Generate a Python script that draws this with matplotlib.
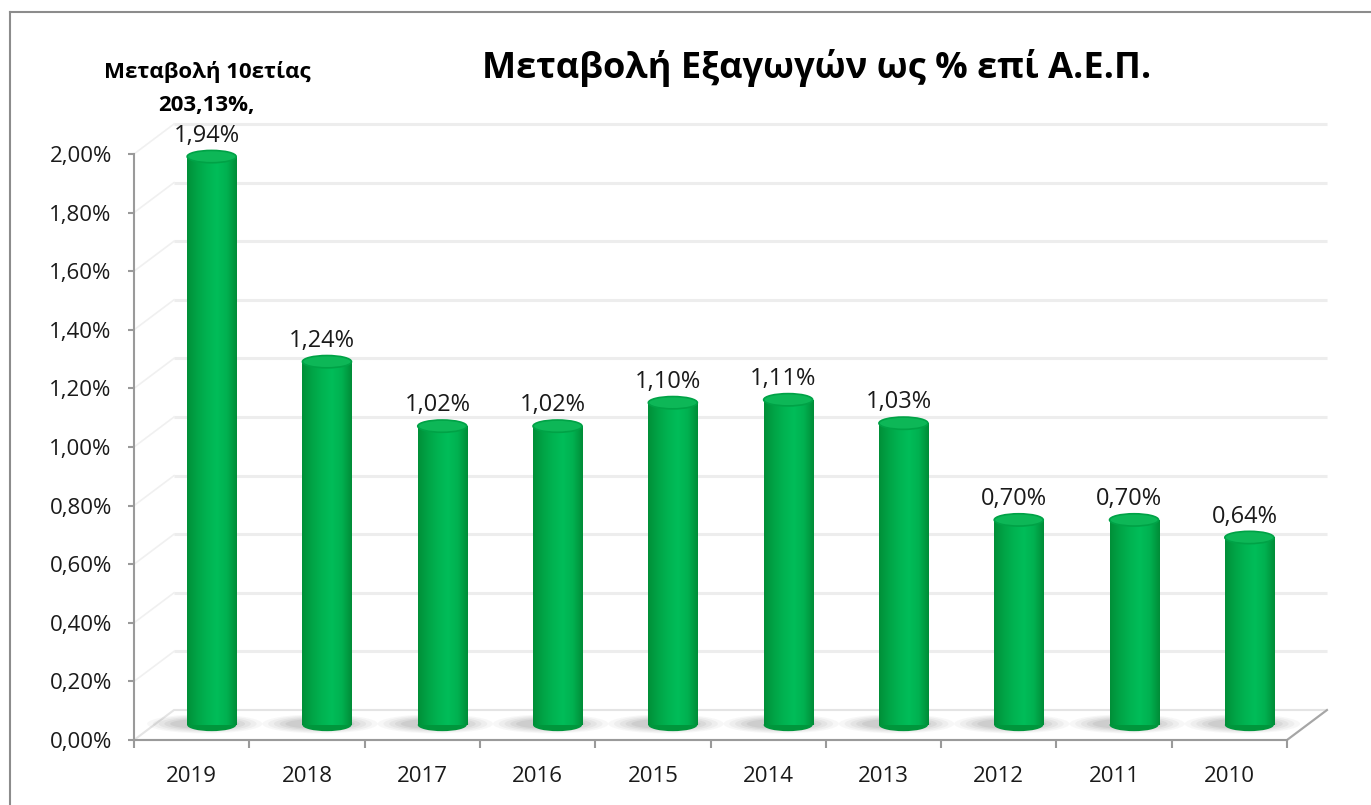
import numpy as np
import matplotlib.pyplot as plt
from matplotlib.patches import Ellipse, Polygon
from matplotlib.transforms import ScaledTranslation, IdentityTransform
from matplotlib.colors import LinearSegmentedColormap
from matplotlib.ticker import FuncFormatter, FixedLocator
from matplotlib.lines import Line2D

plt.rcParams['font.family'] = ['Open Sans', 'DejaVu Sans']

years = ['2019', '2018', '2017', '2016', '2015', '2014', '2013', '2012', '2011', '2010']
values = [1.94, 1.24, 1.02, 1.02, 1.10, 1.11, 1.03, 0.70, 0.70, 0.64]
y_ticks = [0.0, 0.2, 0.4, 0.6, 0.8, 1.0, 1.2, 1.4, 1.6, 1.8, 2.0]

title = 'Μεταβολή Εξαγωγών ως % επί Α.Ε.Π.'
note_line1 = 'Μεταβολή 10ετίας'
note_line2 = '203,13%,'

W, H = 1371, 805
fig = plt.figure(figsize=(W / 100, H / 100), dpi=100)
ax = fig.add_axes([134 / W, (H - 740) / H, (1287 - 134) / W, (740 - 154) / H])
ax.patch.set_alpha(0)

# 3D-ish offsets (pixels): back wall and middle depth
back = ax.transData + ScaledTranslation(40 / 100, 30 / 100, fig.dpi_scale_trans)
mid = ax.transData + ScaledTranslation(20 / 100, 15 / 100, fig.dpi_scale_trans)
disp = IdentityTransform()

x = np.arange(len(years))
x0, x1 = -0.5, len(years) - 0.5
ax.set_xlim(x0, x1)
ax.set_ylim(0, 2.0)

# back wall gridlines + faint side wall lines
for v in y_ticks[1:]:
    ax.plot([x0, x1], [v, v], transform=back, color='#ededed', lw=2.2,
            clip_on=False, zorder=0, solid_capstyle='butt')
    p0 = ax.transData.transform((x0, v))
    p1 = back.transform((x0, v))
    ax.plot([p0[0], p1[0]], [p0[1], p1[1]], transform=disp, color='#f0f0f0',
            lw=1.2, clip_on=False, zorder=0)

# floor
corners = [ax.transData.transform((x0, 0)), ax.transData.transform((x1, 0)),
           back.transform((x1, 0)), back.transform((x0, 0))]
ax.add_patch(Polygon(corners, closed=True, transform=disp, facecolor='white',
                     edgecolor='#e4e4e4', lw=1.5, zorder=0.5, clip_on=False))
ax.plot([corners[1][0], corners[2][0]], [corners[1][1], corners[2][1]],
        transform=disp, color='#a6a6a6', lw=1.5, clip_on=False, zorder=0.6)

# cylinders
bw = 0.425
eh = 0.042
cmap = LinearSegmentedColormap.from_list(
    'cyl', ['#008f38', '#00a446', '#00b351', '#00bd59', '#00b150', '#008c37'])
grad = np.linspace(0, 1, 256).reshape(1, -1)
shadow_layers = [(1.00, 0.065, 0.04), (0.90, 0.058, 0.05), (0.80, 0.050, 0.06),
                 (0.70, 0.042, 0.07), (0.60, 0.034, 0.08)]
for xi, v in zip(x, values):
    # soft floor shadow
    for sw, sh, sa in shadow_layers:
        ax.add_patch(Ellipse((xi - 0.06, 0.004), sw, sh, transform=mid,
                             facecolor='#4a4a4a', alpha=sa, lw=0, zorder=1,
                             clip_on=False))
    ax.add_patch(Ellipse((xi, 0), bw, eh, transform=mid, facecolor='#00963c',
                         edgecolor='none', zorder=2, clip_on=False))
    body = ax.bar(xi, v, width=bw, color='none', lw=0, transform=mid,
                  zorder=3, clip_on=False)[0]
    im = ax.imshow(grad, extent=(xi - bw / 2, xi + bw / 2, 0, v), aspect='auto',
                   cmap=cmap, transform=mid, zorder=3, interpolation='bilinear')
    im.set_clip_path(body)
    ax.add_patch(Ellipse((xi, v), bw, eh, transform=mid, facecolor='#0db757',
                         edgecolor='#00a246', lw=1.2, zorder=4, clip_on=False))
    ax.annotate(f'{v:.2f}%'.replace('.', ','), xy=(xi, v), xycoords=mid,
                xytext=(-3.5, 15), textcoords='offset points', ha='center',
                va='center', fontsize=17, color='#1a1a1a', zorder=5,
                annotation_clip=False)

ax.set_xlim(x0, x1)
ax.set_ylim(0, 2.0)
ax.set_aspect('auto')

# axes styling
for s in ['top', 'right']:
    ax.spines[s].set_visible(False)
for s in ['left', 'bottom']:
    ax.spines[s].set_color('#9a9a9a')
    ax.spines[s].set_linewidth(1.5)
    ax.spines[s].set_zorder(6)
ax.yaxis.set_major_locator(FixedLocator(y_ticks))
ax.yaxis.set_major_formatter(FuncFormatter(lambda v, p: f'{v:.2f}%'.replace('.', ',')))
ax.tick_params(axis='y', length=4, width=1.5, color='#9a9a9a', pad=12,
               labelsize=16, labelcolor='#1a1a1a')
ax.set_xticks(x)
ax.set_xticklabels(years)
ax.set_xticks(np.arange(-0.5, len(years)), minor=True)
ax.tick_params(axis='x', which='major', length=0, pad=19, labelsize=16,
               labelcolor='#1a1a1a')
ax.tick_params(axis='x', which='minor', length=6, width=1.5, color='#9a9a9a')

# titles
fig.text(817 / W, 1 - 68 / H, title, ha='center', va='center', fontsize=26,
         fontweight='bold', color='black')
fig.text(207 / W, 1 - 72 / H, note_line1, ha='center', va='center', fontsize=16,
         fontweight='bold', color='black')
fig.text(206 / W, 1 - 106 / H, note_line2, ha='center', va='center', fontsize=16,
         fontweight='bold', color='black')

# chart border (left and top visible)
fig.add_artist(Line2D([9.5 / W, 9.5 / W], [0, 1 - 12 / H], color='#8c8c8c', lw=1.5))
fig.add_artist(Line2D([9.5 / W, 1], [1 - 12 / H, 1 - 12 / H], color='#8c8c8c', lw=1.5))

fig.savefig('out.png', dpi=100)
